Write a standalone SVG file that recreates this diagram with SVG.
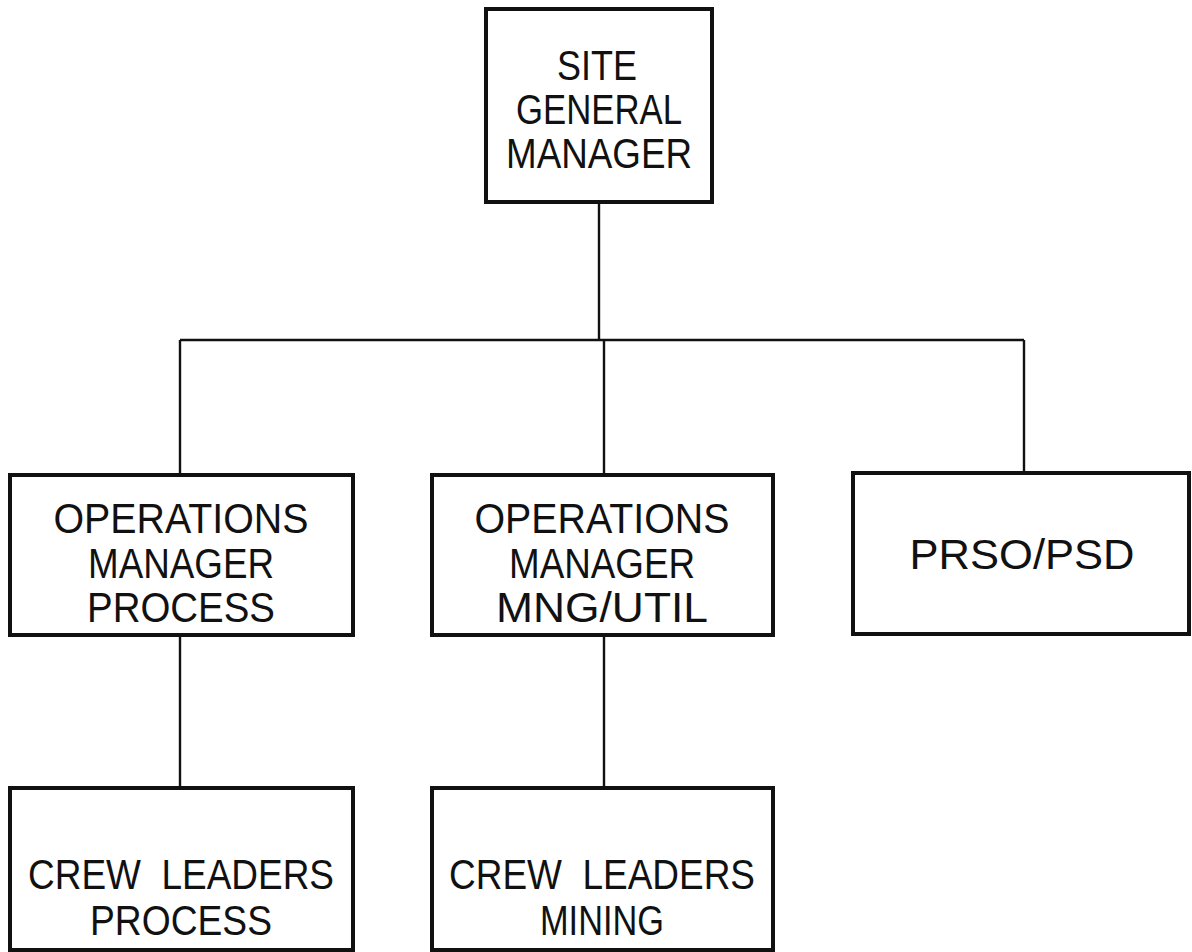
<svg xmlns="http://www.w3.org/2000/svg" width="1192" height="952" viewBox="0 0 1192 952">
<style>
.box{fill:#fff;stroke:#111;stroke-width:4}
.ln{stroke:#111;stroke-width:2.4;fill:none}
.t{font-family:"Liberation Sans",Arial,sans-serif;font-size:42px;fill:#111;text-anchor:middle;white-space:pre}
</style>
<rect width="1192" height="952" fill="#fff"/>
<g id="connectors">
<path class="ln" d="M599 202V340M180 340H1024M180 340V475M604 340V475M1024 340V473M180 635V787M604 635V787"/>
</g>
<g id="site-general-manager">
<rect class="box" x="486" y="9" width="226" height="193"/>
<text class="t" x="597" y="80" textLength="80" lengthAdjust="spacingAndGlyphs">SITE</text>
<text class="t" x="599" y="124" textLength="166" lengthAdjust="spacingAndGlyphs">GENERAL</text>
<text class="t" x="599" y="168" textLength="186" lengthAdjust="spacingAndGlyphs">MANAGER</text>
</g>
<g id="ops-process">
<rect class="box" x="10" y="475" width="343" height="160"/>
<text class="t" x="181" y="533" textLength="255" lengthAdjust="spacingAndGlyphs">OPERATIONS</text>
<text class="t" x="181" y="578" textLength="186" lengthAdjust="spacingAndGlyphs">MANAGER</text>
<text class="t" x="181" y="622" textLength="188" lengthAdjust="spacingAndGlyphs">PROCESS</text>
</g>
<g id="ops-mng-util">
<rect class="box" x="432" y="475" width="341" height="160"/>
<text class="t" x="602" y="533" textLength="255" lengthAdjust="spacingAndGlyphs">OPERATIONS</text>
<text class="t" x="602" y="578" textLength="186" lengthAdjust="spacingAndGlyphs">MANAGER</text>
<text class="t" x="602" y="622" textLength="212" lengthAdjust="spacingAndGlyphs">MNG/UTIL</text>
</g>
<g id="prso-psd">
<rect class="box" x="853" y="473" width="336" height="161"/>
<text class="t" x="1022" y="569" textLength="225" lengthAdjust="spacingAndGlyphs">PRSO/PSD</text>
</g>
<g id="crew-process">
<rect class="box" x="10" y="788" width="343" height="162"/>
<text class="t" x="181" y="889" textLength="306" lengthAdjust="spacingAndGlyphs" xml:space="preserve">CREW  LEADERS</text>
<text class="t" x="181" y="935" textLength="182" lengthAdjust="spacingAndGlyphs">PROCESS</text>
</g>
<g id="crew-mining">
<rect class="box" x="432" y="788" width="341" height="162"/>
<text class="t" x="602" y="889" textLength="306" lengthAdjust="spacingAndGlyphs" xml:space="preserve">CREW  LEADERS</text>
<text class="t" x="602" y="935" textLength="124" lengthAdjust="spacingAndGlyphs">MINING</text>
</g>
</svg>
